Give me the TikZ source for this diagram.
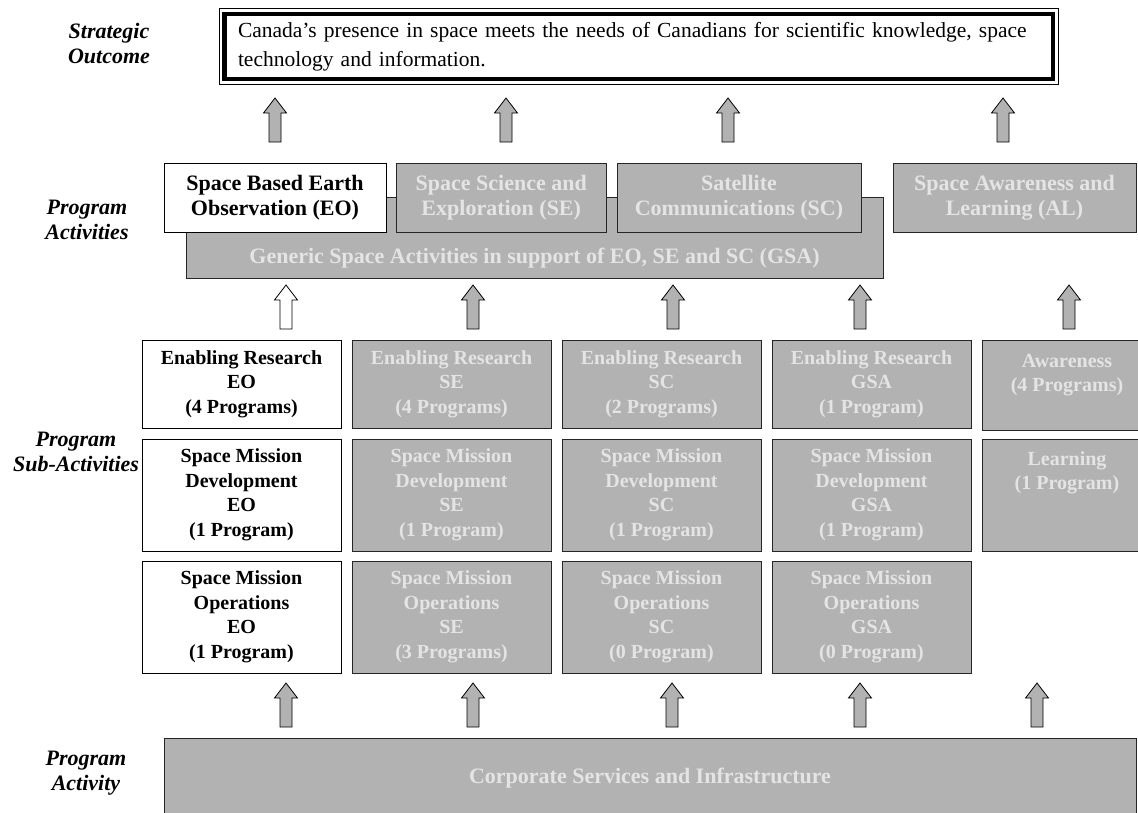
\documentclass[tikz,border=0pt]{standalone}
\usepackage{fontspec}
\setmainfont{Liberation Serif}
\usetikzlibrary{positioning}

\definecolor{boxgray}{HTML}{B2B2B2}
\definecolor{textgray}{HTML}{E4E4E4}
\definecolor{edgegray}{HTML}{262626}

\tikzset{
    levellabel/.style={font=\fontsize{22}{25}\selectfont\bfseries\itshape, align=center},
    activebox/.style={draw=black, fill=white, line width=1pt, outer sep=0pt, inner sep=0pt,
        align=center, anchor=north west, text=black},
    greybox/.style={draw=edgegray, fill=boxgray, line width=1pt, outer sep=0pt, inner sep=0pt,
        align=center, anchor=north west, text=textgray},
    pabox/.style={font=\fontsize{22}{25}\selectfont\bfseries, minimum height=69pt},
    subbox/.style={font=\fontsize{20}{24.5}\selectfont\bfseries, minimum width=199pt},
    blockarrow/.style={draw=black, fill=boxgray, line width=0.8pt},
    uparrow/.pic={\path[pic actions] (-6,0) -- (-6,29) -- (-11.5,29) -- (0,44)
        -- (11.5,29) -- (6,29) -- (6,0) -- cycle;}
}

\begin{document}
\begin{tikzpicture}[x=1pt, y=1pt]
    \useasboundingbox (0,0) rectangle (1138,-812);

    % level labels
    \node[levellabel] (lblSO) at (109,-43.5) {Strategic\\Outcome};
    \node[levellabel] (lblPA) at (87,-219.5) {Program\\Activities};
    \node[levellabel] (lblPSA) at (76,-452) {Program\\Sub-Activities};
    \node[levellabel] (lblCS) at (86,-773.5) {Program\\Activity};

    % strategic outcome
    \node[draw=black, line width=4.5pt, outer sep=0pt, inner xsep=13.75pt, inner ysep=0pt,
        minimum width=828.5pt, minimum height=65pt, text width=801pt, align=left,
        font=\fontsize{21.5}{28.5}\selectfont] (outcome) at (638.5,-46.5)
        {Canada’s presence in space meets the needs of Canadians for scientific knowledge, space\\technology and information.};
    \draw[line width=0.8pt] ([shift={(-5.25,5.25)}]outcome.north west) rectangle ([shift={(5.25,-5.25)}]outcome.south east);

    % arrows to outcome
    \pic[blockarrow] at (275,-142) {uparrow};
    \pic[blockarrow] at (506,-142) {uparrow};
    \pic[blockarrow] at (728,-142) {uparrow};
    \pic[blockarrow] at (1003,-142) {uparrow};

    % program activities
    \node[greybox, minimum width=697pt, minimum height=81pt] (GSA) at (186,-197) {};
    \node[text=textgray, font=\fontsize{22}{25}\selectfont\bfseries] (GSAtext) at ([yshift=20pt]GSA.south)
        {Generic Space Activities in support of EO, SE and SC (GSA)};
    \node[activebox, pabox, minimum width=222pt] (EO) at (164,-163) {Space Based Earth\\Observation (EO)};
    \node[greybox, pabox, minimum width=210.5pt] (SE) at (396,-163) {Space Science and\\Exploration (SE)};
    \node[greybox, pabox, minimum width=244pt] (SC) at (617,-163) {Satellite\\Communications (SC)};
    \node[greybox, pabox, minimum width=243pt] (AL) at (893,-163) {Space Awareness and\\Learning (AL)};

    % arrows to program activities
    \pic[blockarrow, fill=white] at (286,-329) {uparrow};
    \pic[blockarrow] at (473,-329) {uparrow};
    \pic[blockarrow] at (673,-329) {uparrow};
    \pic[blockarrow] at (860,-329) {uparrow};
    \pic[blockarrow] at (1069,-329) {uparrow};

    % sub-activities, enabling research
    \node[activebox, subbox, minimum height=88pt] (ER-EO) at (142,-340) {Enabling Research\\EO\\(4 Programs)};
    \node[greybox, subbox, minimum height=88pt] (ER-SE) at (352,-340) {Enabling Research\\SE\\(4 Programs)};
    \node[greybox, subbox, minimum height=88pt] (ER-SC) at (562,-340) {Enabling Research\\SC\\(2 Programs)};
    \node[greybox, subbox, minimum height=88pt] (ER-GSA) at (772,-340) {Enabling Research\\GSA\\(1 Program)};
    \node[greybox, subbox, minimum height=90pt, minimum width=170pt] (AW) at (982,-340) {Awareness\\(4 Programs)\\\mbox{}};

    % sub-activities, mission development
    \node[activebox, subbox, minimum height=112pt] (MD-EO) at (142,-439) {Space Mission\\Development\\EO\\(1 Program)};
    \node[greybox, subbox, minimum height=112pt] (MD-SE) at (352,-439) {Space Mission\\Development\\SE\\(1 Program)};
    \node[greybox, subbox, minimum height=112pt] (MD-SC) at (562,-439) {Space Mission\\Development\\SC\\(1 Program)};
    \node[greybox, subbox, minimum height=112pt] (MD-GSA) at (772,-439) {Space Mission\\Development\\GSA\\(1 Program)};
    \node[greybox, subbox, minimum height=112pt, minimum width=170pt] (LE) at (982,-439) {Learning\\(1 Program)\\\mbox{}\\\mbox{}};

    % sub-activities, mission operations
    \node[activebox, subbox, minimum height=112pt] (MO-EO) at (142,-561) {Space Mission\\Operations\\EO\\(1 Program)};
    \node[greybox, subbox, minimum height=112pt] (MO-SE) at (352,-561) {Space Mission\\Operations\\SE\\(3 Programs)};
    \node[greybox, subbox, minimum height=112pt] (MO-SC) at (562,-561) {Space Mission\\Operations\\SC\\(0 Program)};
    \node[greybox, subbox, minimum height=112pt] (MO-GSA) at (772,-561) {Space Mission\\Operations\\GSA\\(0 Program)};

    % arrows from corporate services
    \pic[blockarrow] at (286,-727) {uparrow};
    \pic[blockarrow] at (473,-727) {uparrow};
    \pic[blockarrow] at (672,-727) {uparrow};
    \pic[blockarrow] at (860,-727) {uparrow};
    \pic[blockarrow] at (1037,-727) {uparrow};

    % corporate services
    \node[greybox, font=\fontsize{22}{25}\selectfont\bfseries, minimum width=972pt, minimum height=80pt] (CSI) at (164,-738)
        {Corporate Services and Infrastructure};
\end{tikzpicture}
\end{document}
